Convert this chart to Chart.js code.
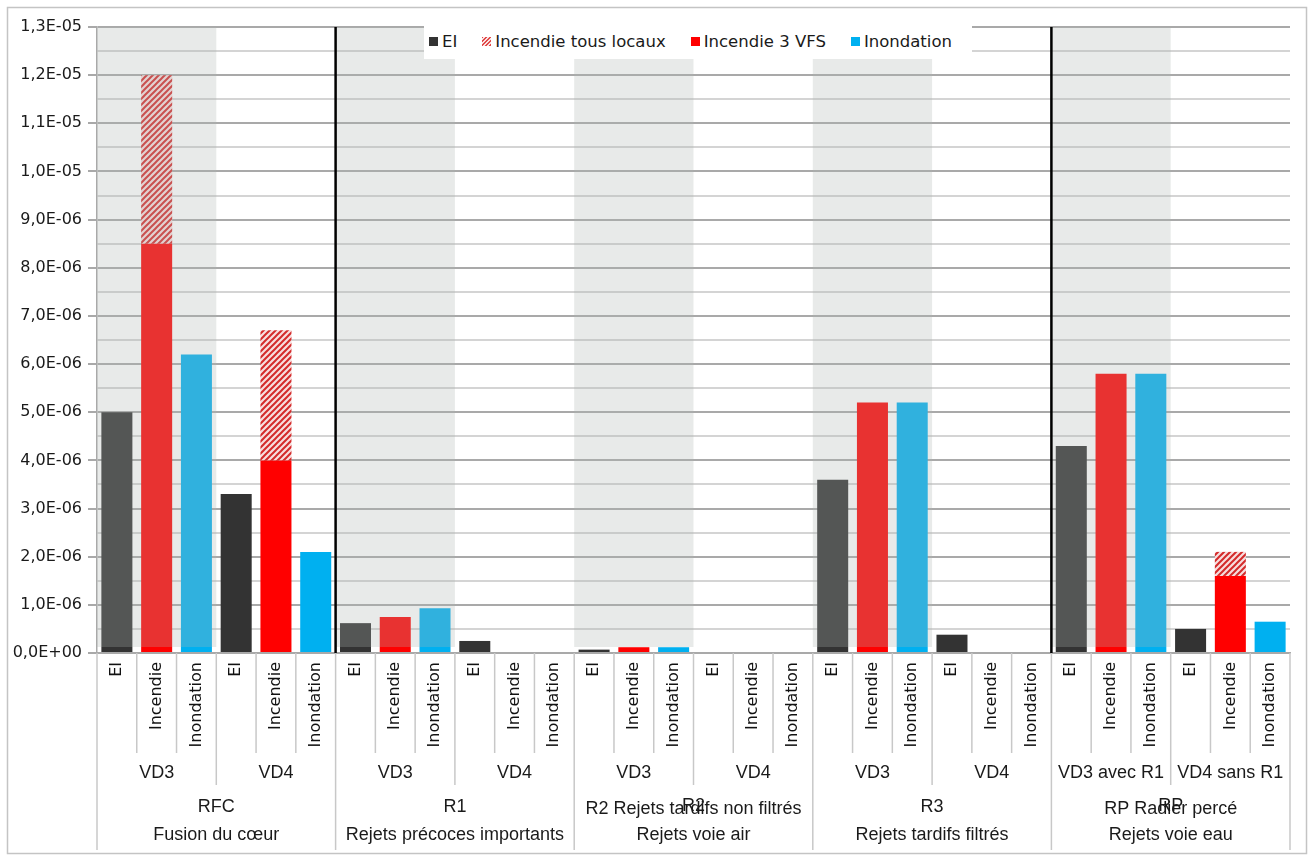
<!DOCTYPE html>
<html>
<head>
<meta charset="utf-8">
<script src="https://cdn.jsdelivr.net/npm/chart.js@4.4.1/dist/chart.umd.min.js"></script>
<style>
  body { margin: 0; background: #fff; }
  #wrap { position: relative; width: 1313px; height: 857px; }
  #legende {
    position: absolute; left: 424px; top: 24px; width: 548px; height: 35px;
    background: #fff; display: flex; align-items: center; padding-left: 5px;
    box-sizing: border-box; font: 16.5px "DejaVu Sans", sans-serif; color: #1a1a1a;
  }
  .item { display: flex; align-items: center; margin-right: 25px; white-space: nowrap; }
  .item i { display: inline-block; width: 9px; height: 9px; margin-right: 4px; }
</style>
</head>
<body>
<div id="wrap">
  <canvas id="graf"></canvas>
  <div id="legende">
    <span class="item"><i style="background:#333"></i>EI</span>
    <span class="item"><i style="background:repeating-linear-gradient(-45deg,#e04a4a 0 1.5px,#fbe2e2 1.5px 3px)"></i>Incendie tous locaux</span>
    <span class="item"><i style="background:#ff0000"></i>Incendie 3 VFS</span>
    <span class="item"><i style="background:#00b0f0"></i>Inondation</span>
  </div>
</div>
<script>
// categories de l'axe x
const categories = ['EI', 'Incendie', 'Inondation'];
const variantes = ['VD3', 'VD4', 'VD3', 'VD4', 'VD3', 'VD4', 'VD3', 'VD4', 'VD3 avec R1', 'VD4 sans R1'];
const rejets = ['RFC', 'R1', 'R2', 'R3', 'RP'];
const rejetsLong = ['', '', 'R2 Rejets tardifs non filtrés', '', 'RP Radier percé'];
const familles = ['Fusion du cœur', 'Rejets précoces importants', 'Rejets voie air', 'Rejets tardifs filtrés', 'Rejets voie eau'];

// valeurs, une par variante
const valEI = [5.0e-6, 3.3e-6, 6.2e-7, 2.5e-7, 7e-8, 0, 3.6e-6, 3.8e-7, 4.3e-6, 5.0e-7];
const valInc3VFS = [8.5e-6, 4.0e-6, 7.5e-7, 0, 1.2e-7, 0, 5.2e-6, 0, 5.8e-6, 1.6e-6];
const valIncTous = [3.5e-6, 2.7e-6, 0, 0, 0, 0, 0, 0, 0, 5.0e-7];
const valInondation = [6.2e-6, 2.1e-6, 9.3e-7, 0, 1.2e-7, 0, 5.2e-6, 0, 5.8e-6, 6.5e-7];

const separationsNoires = [1, 4]; // avant R1 et avant RP

const labels = variantes.flatMap(() => categories);
const placer = (vals, pos) => variantes.flatMap((_, i) => categories.map((_, k) => k === pos ? vals[i] : null));

function hachures() {
  const c = document.createElement('canvas');
  c.width = 6; c.height = 6;
  const g = c.getContext('2d');
  g.fillStyle = '#f7dede';
  g.fillRect(0, 0, 6, 6);
  g.strokeStyle = '#d42a2a';
  g.lineWidth = 2;
  g.beginPath();
  g.moveTo(0, 6); g.lineTo(6, 0);
  g.moveTo(-1, 1); g.lineTo(1, -1);
  g.moveTo(5, 7); g.lineTo(7, 5);
  g.stroke();
  return g.createPattern(c, 'repeat');
}

function fmt(v) {
  const [m, e] = v.toExponential(1).split('e');
  const signe = e[0] === '-' ? '-' : '+';
  return m.replace('.', ',') + 'E' + signe + e.replace(/[+-]/, '').padStart(2, '0');
}
const majeur = v => Math.round(v / 5e-7) % 2 === 0;

const decor = {
  id: 'decor',
  beforeDraw(chart) {
    const { ctx } = chart;
    ctx.save();
    ctx.fillStyle = '#fff';
    ctx.fillRect(0, 0, chart.width, chart.height);
    ctx.strokeStyle = '#c4c4c4';
    ctx.lineWidth = 1.5;
    ctx.strokeRect(7.5, 7.5, 1299, 846);
    ctx.restore();
  },
  afterDatasetsDraw(chart) {
    const { ctx, chartArea: a } = chart;
    const cw = (a.right - a.left) / labels.length;
    ctx.save();
    ctx.fillStyle = 'rgba(172,180,176,0.28)';
    rejets.forEach((_, g) => {
      ctx.fillRect(a.left + g * 6 * cw, a.top, cw * 3, a.bottom - 6 - a.top);
    });
    ctx.strokeStyle = '#000';
    ctx.lineWidth = 2.5;
    separationsNoires.forEach(g => {
      const xx = a.left + g * 6 * cw;
      ctx.beginPath(); ctx.moveTo(xx, a.top); ctx.lineTo(xx, a.bottom); ctx.stroke();
    });
    ctx.restore();
  },
  afterDraw(chart) {
    const { ctx, chartArea: a } = chart;
    const cw = (a.right - a.left) / labels.length;
    ctx.save();
    ctx.strokeStyle = '#c8c8c8';
    ctx.lineWidth = 1.5;
    for (let i = 0; i <= labels.length; i++) {
      const xx = a.left + i * cw;
      const len = i % 6 === 0 ? 197 : (i % 3 === 0 ? 132 : 100);
      ctx.beginPath(); ctx.moveTo(xx, a.bottom); ctx.lineTo(xx, a.bottom + len); ctx.stroke();
    }
    ctx.fillStyle = '#1a1a1a';
    ctx.textAlign = 'center';
    ctx.textBaseline = 'middle';
    ctx.font = '18px "Liberation Sans", Arial, sans-serif';
    variantes.forEach((v, i) => ctx.fillText(v, a.left + (i * 3 + 1.5) * cw, a.bottom + 120));
    rejets.forEach((r, g) => {
      const xc = a.left + (g * 6 + 3) * cw;
      if (rejetsLong[g]) {
        ctx.fillText(rejetsLong[g], xc, a.bottom + 156);
        ctx.fillText(r, xc, a.bottom + 153);
      } else {
        ctx.fillText(r, xc, a.bottom + 154);
      }
    });
    familles.forEach((f, g) => ctx.fillText(f, a.left + (g * 6 + 3) * cw, a.bottom + 182));
    ctx.restore();
  }
};

new Chart(document.getElementById('graf'), {
  type: 'bar',
  data: {
    labels: labels,
    datasets: [
      { label: 'EI', data: placer(valEI, 0), backgroundColor: '#333333' },
      { label: 'Incendie 3 VFS', data: placer(valInc3VFS, 1), backgroundColor: '#ff0000' },
      { label: 'Incendie tous locaux', data: placer(valIncTous, 1), backgroundColor: hachures() },
      { label: 'Inondation', data: placer(valInondation, 2), backgroundColor: '#00b0f0' }
    ]
  },
  options: {
    responsive: true,
    maintainAspectRatio: false,
    animation: false,
    layout: { padding: { top: 27, right: 23, bottom: 7, left: 0 } },
    datasets: { bar: { barPercentage: 0.78, categoryPercentage: 1 } },
    plugins: { legend: { display: false }, tooltip: { enabled: false } },
    scales: {
      x: {
        stacked: true,
        grid: { display: false, drawTicks: false },
        border: { display: true, color: '#a9a9a9', width: 1.5 },
        ticks: {
          autoSkip: false, minRotation: 90, maxRotation: 90, padding: 9,
          color: '#111', font: { family: 'DejaVu Sans', size: 16 }
        },
        afterFit(s) { s.height = 197; }
      },
      y: {
        stacked: true,
        min: 0,
        max: 1.3e-5,
        ticks: {
          stepSize: 5e-7, autoSkip: false, padding: 6, color: '#1a1a1a',
          font: { family: 'DejaVu Sans', size: 16 },
          callback: v => majeur(v) ? fmt(v) : ''
        },
        grid: {
          color: c => majeur(c.tick.value) ? '#a9a9a9' : '#d4d4d4',
          lineWidth: 2,
          tickLength: 9,
          tickColor: c => majeur(c.tick.value) ? '#a9a9a9' : 'rgba(0,0,0,0)'
        },
        border: { display: true, color: '#a9a9a9', width: 1.5 },
        afterFit(s) { s.width = 97; }
      }
    }
  },
  plugins: [decor]
});
</script>
</body>
</html>
